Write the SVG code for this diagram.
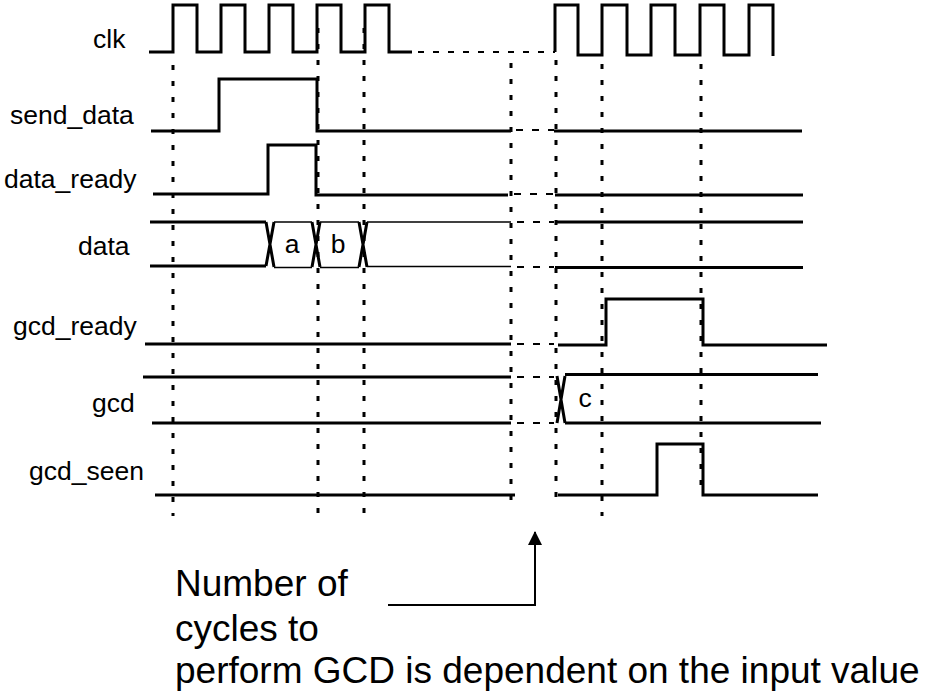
<svg xmlns="http://www.w3.org/2000/svg" width="925" height="691" viewBox="0 0 925 691">
<style>
  .sig{fill:none;stroke:#000;stroke-width:3;stroke-linejoin:miter}
  .thin{fill:none;stroke:#000;stroke-width:1.3}
  .gap{fill:none;stroke:#000;stroke-width:2;stroke-dasharray:7 9}
  .clkgap{fill:none;stroke:#000;stroke-width:2;stroke-dasharray:6 9}
  .tick{fill:none;stroke:#000;stroke-width:3;stroke-dasharray:5 11}
  .lbl{font-family:"Liberation Sans",Arial,sans-serif;font-size:26.5px;fill:#000}
  .note{font-family:"Liberation Sans",Arial,sans-serif;font-size:37px;fill:#000}
</style>
<defs>
  <marker id="ah" markerWidth="14" markerHeight="14" refX="13" refY="7" orient="auto" markerUnits="userSpaceOnUse" viewBox="0 0 14 14">
    <path d="M0,0 L14,7 L0,14 Z" fill="#000"/>
  </marker>
</defs>
<rect width="925" height="691" fill="#fff"/>

<g id="connectors">
  <line class="tick" x1="173" y1="65" x2="173" y2="516"/>
  <line class="tick" x1="318" y1="28" x2="318" y2="516"/>
  <line class="tick" x1="364" y1="28" x2="364" y2="516"/>
  <line class="tick" x1="511" y1="63" x2="511" y2="508"/>
  <line class="tick" x1="556" y1="60" x2="556" y2="508"/>
  <line class="tick" x1="602" y1="64" x2="602" y2="516"/>
  <line class="tick" x1="701" y1="64" x2="701" y2="496"/>
  <path d="M388,605 H535 V532" fill="none" stroke="#000" stroke-width="2" marker-end="url(#ah)"/>
</g>

<g id="clk">
  <text class="lbl" x="93" y="48">clk</text>
  <polyline class="sig" points="149,52 173,52 173,5 197,5 197,52 221,52 221,5 245,5 245,52 269,52 269,5 293,5 293,52 317,52 317,5 341,5 341,52 365,52 365,5 389,5 389,52 412,52"/>
  <line class="clkgap" x1="418" y1="52" x2="555" y2="52"/>
  <polyline class="sig" points="555,52 555,5 578,5 578,55 602,55 602,5 627,5 627,55 651,55 651,5 675,5 675,55 700,55 700,5 724,5 724,55 749,55 749,5 773,5 773,56"/>
</g>

<g id="send_data">
  <text class="lbl" x="10" y="124">send_data</text>
  <polyline class="sig" points="151,131 219,131 219,79 317,79 317,131 511,131"/>
  <line class="gap" x1="516" y1="130" x2="554" y2="130"/>
  <line class="sig" x1="554" y1="131" x2="802" y2="131"/>
</g>

<g id="data_ready">
  <text class="lbl" x="4" y="188">data_ready</text>
  <polyline class="sig" points="153,194 268,194 268,145 316,145 316,195 508,195"/>
  <line class="gap" x1="514" y1="194" x2="554" y2="194"/>
  <line class="sig" x1="555" y1="195" x2="803" y2="195"/>
</g>

<g id="data">
  <text class="lbl" x="78" y="255">data</text>
  <line class="sig" x1="150" y1="222" x2="266" y2="222"/>
  <line class="sig" x1="150" y1="266" x2="266" y2="266"/>
  <path class="sig" stroke-width="2.2" d="M266,222 L274,267 M266,266 L274,222"/>
  <line class="thin" x1="274" y1="222" x2="312" y2="222"/>
  <line class="thin" x1="274" y1="267.5" x2="312" y2="267.5"/>
  <text class="lbl" x="292" y="253" text-anchor="middle">a</text>
  <path class="sig" stroke-width="2.2" d="M312,222 L320,267 M312,267 L320,222"/>
  <line class="thin" x1="320" y1="222" x2="359" y2="222"/>
  <line class="thin" x1="320" y1="267.5" x2="359" y2="267.5"/>
  <text class="lbl" x="338" y="253" text-anchor="middle">b</text>
  <path class="sig" stroke-width="2.2" d="M359,222 L367,267 M359,267 L367,222"/>
  <line class="thin" x1="367" y1="222" x2="511" y2="222"/>
  <line class="thin" x1="367" y1="266.5" x2="511" y2="266.5"/>
  <line class="gap" x1="517" y1="222" x2="554" y2="222"/>
  <line class="gap" x1="517" y1="267" x2="554" y2="267"/>
  <line class="sig" x1="555" y1="222" x2="803" y2="222"/>
  <line class="sig" x1="555" y1="267.5" x2="803" y2="267.5"/>
</g>

<g id="gcd_ready">
  <text class="lbl" x="13" y="335">gcd_ready</text>
  <line class="sig" x1="145" y1="344" x2="511" y2="344"/>
  <line class="gap" x1="517" y1="344" x2="554" y2="344"/>
  <polyline class="sig" points="558,345 606,345 606,299 703,299 703,345 827,345"/>
</g>

<g id="gcd">
  <text class="lbl" x="92" y="412">gcd</text>
  <line class="sig" x1="143" y1="377" x2="511" y2="377"/>
  <line class="sig" x1="152" y1="423" x2="511" y2="423"/>
  <line class="gap" x1="517" y1="377" x2="554" y2="377"/>
  <line class="gap" x1="517" y1="423" x2="554" y2="423"/>
  <path class="sig" stroke-width="2.2" d="M557,376 L565,423 M557,423 L565,376"/>
  <line class="sig" x1="565" y1="374.5" x2="818" y2="374.5"/>
  <line class="sig" x1="565" y1="423" x2="821" y2="423"/>
  <text class="lbl" x="585" y="407" text-anchor="middle">c</text>
</g>

<g id="gcd_seen">
  <text class="lbl" x="29" y="480">gcd_seen</text>
  <line class="sig" x1="155" y1="495" x2="515" y2="495"/>
  <polyline class="sig" points="558,495 657,495 657,444 703,444 703,495 818,495"/>
</g>

<g id="note">
  <text class="note" x="175" y="596">Number of</text>
  <text class="note" x="175" y="641">cycles to</text>
  <text class="note" x="175" y="683">perform GCD is dependent on the input value</text>
</g>
</svg>
